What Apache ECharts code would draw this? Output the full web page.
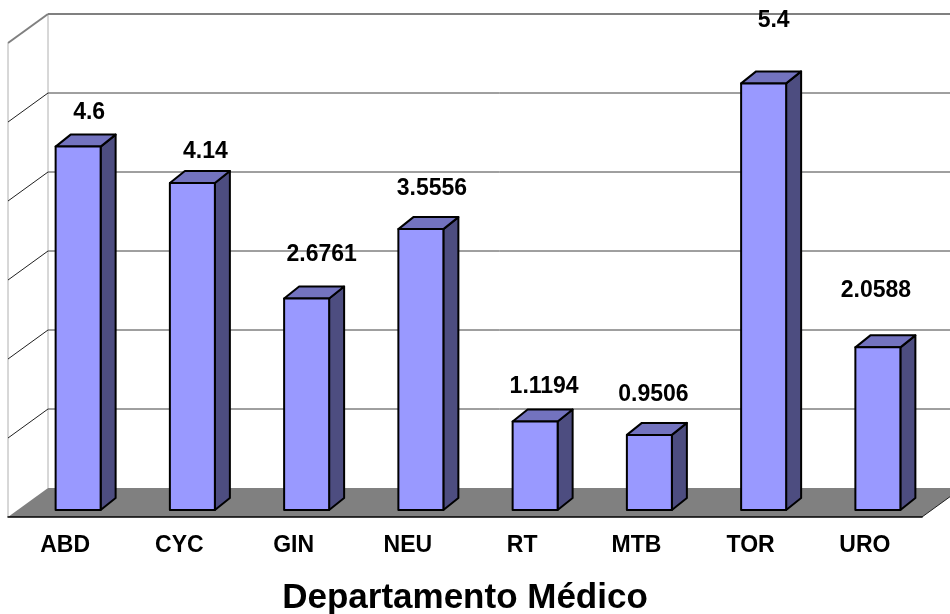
<!DOCTYPE html>
<html>
<head>
	<meta charset="UTF-8">
	<title>Departamento Médico</title>
	<style>
		html, body { margin: 0; padding: 0; background: #fff; }
		#chart { width: 950px; height: 614px; }
	</style>
</head>
<body>
	<div id="chart"></div>
	<script src="https://cdn.jsdelivr.net/npm/echarts@6/dist/echarts.min.js"></script>
	<script>
		// datos
		var departamentos = ['ABD', 'CYC', 'GIN', 'NEU', 'RT', 'MTB', 'TOR', 'URO'];
		var valores = [4.6, 4.14, 2.6761, 3.5556, 1.1194, 0.9506, 5.4, 2.0588];
		var etiquetas = ['4.6', '4.14', '2.6761', '3.5556', '1.1194', '0.9506', '5.4', '2.0588'];
		var tituloEje = 'Departamento Médico';

		// desplazamiento de cada etiqueta respecto al valor (px), como en el original
		var desplazaEtiqueta = [[24, -41], [26, -38], [28, -51], [24, -47], [22, -42], [17, -47], [23, -70], [11, -64]];

		var Y_MAX = 6, Y_STEP = 1;
		var FONDO_X = 40, FONDO_Y = -29;   // profundidad de las paredes
		var BARRA_X = 13, BARRA_Y = -7;    // posición de la cara frontal de la barra
		var PROF_X = 15, PROF_Y = -12;     // profundidad de la barra
		var fuente = '"Liberation Sans", Arial, sans-serif';

		function paredes(params, api) {
			var cs = params.coordSys;
			var L = cs.x, R = cs.x + cs.width;
			var y0 = api.coord([0, 0])[1];
			var yTop = api.coord([0, Y_MAX])[1];
			var hijos = [];
			// suelo
			hijos.push({
				type: 'polygon',
				shape: { points: [[L, y0], [R, y0], [R + FONDO_X, y0 + FONDO_Y], [L + FONDO_X, y0 + FONDO_Y]] },
				style: { fill: '#808080', stroke: null }
			});
			// bordes de la pared izquierda
			hijos.push({ type: 'line', shape: { x1: L, y1: y0, x2: L, y2: yTop }, style: { stroke: '#b0b0b0', lineWidth: 1 } });
			hijos.push({ type: 'line', shape: { x1: L + FONDO_X, y1: y0 + FONDO_Y, x2: L + FONDO_X, y2: yTop + FONDO_Y }, style: { stroke: '#b0b0b0', lineWidth: 1 } });
			for (var v = Y_STEP; v <= Y_MAX; v += Y_STEP) {
				var y = api.coord([0, v])[1];
				var top = v === Y_MAX;
				// pared del fondo
				hijos.push({
					type: 'line',
					shape: { x1: L + FONDO_X, y1: y + FONDO_Y, x2: R + FONDO_X, y2: y + FONDO_Y },
					style: { stroke: top ? '#808080' : '#404040', lineWidth: top ? 2 : 1 }
				});
				// pared izquierda
				hijos.push({
					type: 'line',
					shape: { x1: L, y1: y, x2: L + FONDO_X, y2: y + FONDO_Y },
					style: { stroke: top ? '#808080' : '#202020', lineWidth: top ? 2 : 1 }
				});
			}
			// borde derecho del suelo
			hijos.push({ type: 'line', shape: { x1: R, y1: y0, x2: R + FONDO_X, y2: y0 + FONDO_Y }, style: { stroke: '#202020', lineWidth: 1 } });
			return { type: 'group', children: hijos };
		}

		function barra(params, api) {
			var i = api.value(0), v = api.value(1);
			var base = api.coord([i, 0]);
			var cima = api.coord([i, v]);
			var bw = 45;
			var x0 = base[0] + BARRA_X - bw / 2, x1 = x0 + bw;
			var yb = base[1] + BARRA_Y, yt = cima[1] + BARRA_Y;
			var borde = { stroke: '#000', lineWidth: 2, lineJoin: 'round' };
			var d = desplazaEtiqueta[params.dataIndex];
			return {
				type: 'group',
				children: [
					{
						type: 'polygon',
						shape: { points: [[x1, yt], [x1 + PROF_X, yt + PROF_Y], [x1 + PROF_X, yb + PROF_Y], [x1, yb]] },
						style: Object.assign({ fill: '#4d4d80' }, borde)
					},
					{
						type: 'polygon',
						shape: { points: [[x0, yt], [x0 + PROF_X, yt + PROF_Y], [x1 + PROF_X, yt + PROF_Y], [x1, yt]] },
						style: Object.assign({ fill: '#7373bf' }, borde)
					},
					{
						type: 'rect',
						shape: { x: x0, y: yt, width: bw, height: yb - yt },
						style: Object.assign({ fill: '#9999ff' }, borde)
					},
					{
						type: 'text',
						x: base[0] + d[0],
						y: cima[1] + d[1],
						style: {
							text: etiquetas[params.dataIndex],
							fill: '#000',
							font: 'bold 23px ' + fuente,
							align: 'center',
							verticalAlign: 'middle'
						}
					}
				]
			};
		}

		var myChart = echarts.init(document.getElementById('chart'));
		myChart.setOption({
			animation: false,
			backgroundColor: '#fff',
			grid: { left: 8, right: 28, top: 43, bottom: 97, containLabel: false, outerBoundsMode: 'none' },
			xAxis: {
				type: 'category',
				data: departamentos,
				name: tituloEje,
				nameLocation: 'middle',
				nameGap: 64,
				nameTextStyle: { color: '#000', fontSize: 35, fontWeight: 'bold', fontFamily: fuente },
				axisLine: { lineStyle: { color: '#000', width: 1.5 } },
				axisTick: { length: 8, lineStyle: { color: '#000' } },
				axisLabel: { color: '#000', fontSize: 23, fontWeight: 'bold', fontFamily: fuente, margin: 17 },
				z: 5
			},
			yAxis: {
				type: 'value',
				min: 0,
				max: Y_MAX,
				interval: Y_STEP,
				show: false
			},
			series: [
				{
					type: 'custom',
					renderItem: paredes,
					data: [[0, 0]],
					z: 1,
					silent: true
				},
				{
					type: 'custom',
					renderItem: barra,
					data: valores.map(function (v, i) { return [i, v]; }),
					z: 3
				}
			]
		});
	</script>
</body>
</html>
